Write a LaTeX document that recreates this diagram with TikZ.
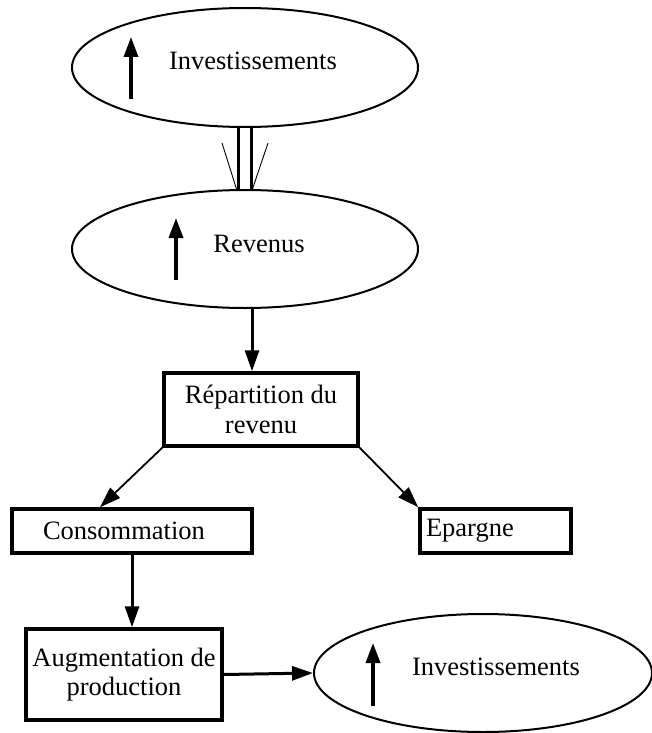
\documentclass[tikz,border=0pt]{standalone}
\usepackage{fontspec}
\setmainfont{Liberation Serif}
\usetikzlibrary{shapes.geometric,arrows.meta}
\begin{document}
\begin{tikzpicture}[x=1pt,y=-1pt,
  txt/.style={font=\fontsize{26.5}{29.5}\selectfont, inner sep=0pt},
  oval/.style={ellipse, draw, line width=2pt, inner sep=0pt},
  boxnode/.style={draw, line width=3.5pt, inner sep=0pt, font=\fontsize{26.5}{29.5}\selectfont},
  arr/.style={line width=3pt, -{Triangle[length=21pt,width=14pt]}},
  thinarr/.style={line width=1.8pt, -{Triangle[length=21pt,width=14pt]}},
  uparr/.style={line width=3.5pt, -{Triangle[length=20pt,width=14pt]}},
  dbl/.style={line width=3pt},
  slant/.style={line width=0.9pt}
]
\useasboundingbox (0,0) rectangle (652,733);

% ellipses
\node[oval, minimum width=346pt, minimum height=119pt] (inv1) at (245,67.5) {};
\node[oval, minimum width=346pt, minimum height=118pt] (rev) at (245,249) {};
\node[oval, minimum width=338pt, minimum height=118pt] (inv2) at (483,673) {};

% ellipse texts
\node[txt, anchor=base] (tinv1) at (253,70) {Investissements};
\node[txt, anchor=base] (trev) at (259,252) {Revenus};
\node[txt, anchor=base] (tinv2) at (496,675) {Investissements};

% arrows inside ellipses
\coordinate (a1s) at (131,99);  \coordinate (a1e) at (131,37);
\coordinate (a2s) at (176,280); \coordinate (a2e) at (176,218);
\coordinate (a3s) at (373,706); \coordinate (a3e) at (373,643);
\draw[uparr] (a1s) -- (a1e);
\draw[uparr] (a2s) -- (a2e);
\draw[uparr] (a3s) -- (a3e);

% boxes
\node[boxnode, minimum width=194pt, minimum height=73pt, align=center] (rep) at (261,409.5)
  {R\'epartition du\\revenu};
\node[boxnode, minimum width=240pt, minimum height=44pt, inner xsep=31pt, text width=178pt, align=left] (cons) at (132,531)
  {Consommation};
\node[boxnode, minimum width=151pt, minimum height=44pt, inner xsep=6pt, text width=139pt, align=left] (epa) at (495.5,531)
  {Epargne};
\node[boxnode, minimum width=196pt, minimum height=91pt, align=center] (aug) at (124,674.5)
  {Augmentation de\\production};

% double connector Investissements -> Revenus
\draw[dbl] ([xshift=-7pt]inv1.south) -- ([xshift=-7pt]rev.north);
\draw[dbl] ([xshift=6pt]inv1.south) -- ([xshift=6pt]rev.north);
\draw[slant] ([shift={(-23pt,46pt)}]rev.north) -- ([xshift=-8.5pt]rev.north);
\draw[slant] ([shift={(23pt,46pt)}]rev.north) -- ([xshift=7.5pt]rev.north);

% connectors
\draw[arr] ([xshift=7pt]rev.south) -- ([xshift=-9pt]rep.north);
\draw[thinarr] (rep.south west) -- ([xshift=-32pt]cons.north);
\draw[thinarr] (rep.south east) -- (epa.north west);
\draw[arr] (cons.south) -- (cons.south |- aug.north);
\draw[arr] (aug.east) -- (inv2.west);
\end{tikzpicture}
\end{document}
